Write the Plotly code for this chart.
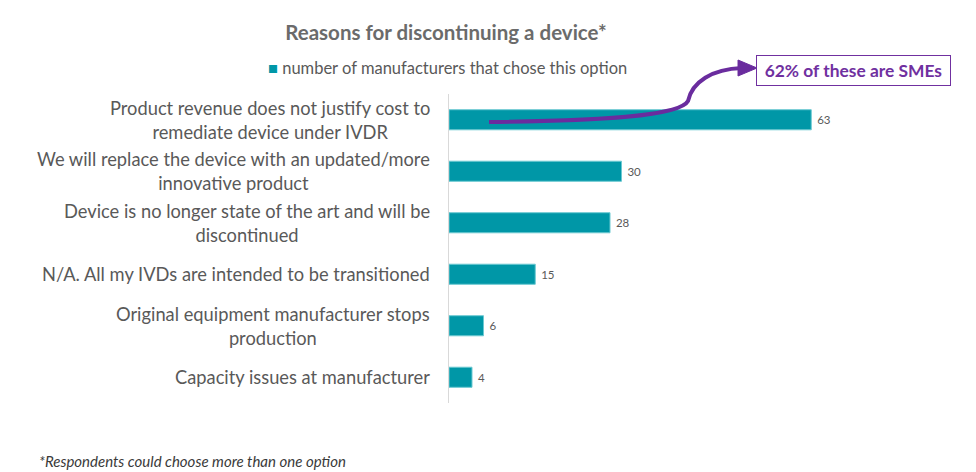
import plotly.graph_objects as go

categories = [
    "Product revenue does not justify cost to<br>remediate device under IVDR",
    "We will replace the device with an updated/more<br>innovative product",
    "Device is no longer state of the art and will be<br>discontinued",
    "N/A. All my IVDs are intended to be transitioned",
    "Original equipment manufacturer stops<br>production",
    "Capacity issues at manufacturer",
]
values = [63, 30, 28, 15, 6, 4]
series_name = "number of manufacturers that chose this option"
title_text = "Reasons for discontinuing a device*"
callout_text = "62% of these are SMEs"
footnote_text = "*Respondents could choose more than one option"

W, H = 976, 472
OFF = 8  # page body margin
# plot area in screen pixels
SX0, SX1, SY0, SY1 = 449, 909, 94, 403
ML = SX0 - OFF
MR = W - (SX1 - OFF)
MT = SY0 - OFF
MB = H - (SY1 - OFF)
PW, PH = SX1 - SX0, SY1 - SY0

def px(x):
    return (x - SX0) / PW

def py(y):
    return (SY1 - y) / PH

FONT = "Lato"
GREY = "#595959"
TEAL = "#0097A7"
PURPLE = "#7030A0"

fig = go.Figure()
fig.add_trace(go.Bar(
    x=values, y=categories, orientation="h", name=series_name,
    marker=dict(color=TEAL, line=dict(color="#6cc9d2", width=1)),
    width=0.39,
    text=values, texttemplate="\u00a0%{x}", textposition="outside", cliponaxis=False,
    textfont=dict(family=FONT, size=11.5, color=GREY),
    showlegend=False,
))

annotations = []
for c in categories:
    annotations.append(dict(
        x=px(432), xref="paper", y=c, yref="y", xanchor="right", yanchor="middle",
        text=c, align="center", showarrow=False,
        font=dict(family=FONT, size=18.3, color=GREY),
    ))

# legend-like key
annotations.append(dict(
    x=px(447), xref="paper", y=py(68), yref="paper", xanchor="center", yanchor="middle",
    text=f'<span style="color:{TEAL}">\u25A0</span> ' + series_name, showarrow=False,
    font=dict(family=FONT, size=16.5, color=GREY),
))

annotations.append(dict(
    x=px(756), xref="paper", y=py(70), yref="paper", xanchor="left", yanchor="middle",
    text="<b>" + callout_text + "</b>", showarrow=False,
    font=dict(family=FONT, size=17.4, color=PURPLE),
    bordercolor=PURPLE, borderwidth=1, borderpad=4, bgcolor="white",
    width=185, height=21,
))
annotations.append(dict(
    x=px(37), xref="paper", y=py(461), yref="paper",
    xanchor="left", yanchor="middle",
    text="<i>" + footnote_text + "</i>", showarrow=False,
    font=dict(family=FONT, size=15, color="#3a3a3a"),
))

def P(x, y):
    return f"{px(x):.4f},{py(y):.4f}"

curve = (f"M {P(489,122)} C {P(600,121)} {P(680,116)} {P(688,101)} "
         f"C {P(692,82)} {P(712,69)} {P(742,68)}")
head = f"M {P(738,60)} L {P(757,68)} L {P(738,76)} Z"
shapes = [
    dict(type="path", xref="paper", yref="paper", path=curve,
         line=dict(color="#6A2C9E", width=4)),
    dict(type="path", xref="paper", yref="paper", path=head,
         line=dict(color="#6A2C9E", width=1), fillcolor="#6A2C9E"),
]

fig.update_layout(
    width=W, height=H,
    margin=dict(l=ML, r=MR, t=MT, b=MB, autoexpand=False),
    paper_bgcolor="white", plot_bgcolor="rgba(0,0,0,0)",
    title=dict(text="<b>" + title_text + "</b>", x=(446 - OFF) / W, xanchor="center",
               y=1 - (33 - OFF) / H, yanchor="middle", xref="container", yref="container",
               font=dict(family=FONT, size=20.5, color="#6b6b6b")),
    showlegend=False,
    xaxis=dict(range=[0, 80], visible=False, showgrid=False, zeroline=False),
    yaxis=dict(categoryorder="array", categoryarray=categories[::-1],
               showticklabels=False, showgrid=False, zeroline=False,
               showline=True, linecolor="#d9d9d9", linewidth=1, ticks=""),
    annotations=annotations,
    shapes=shapes,
    bargap=0.61,
)

fig.write_html("out.html")
